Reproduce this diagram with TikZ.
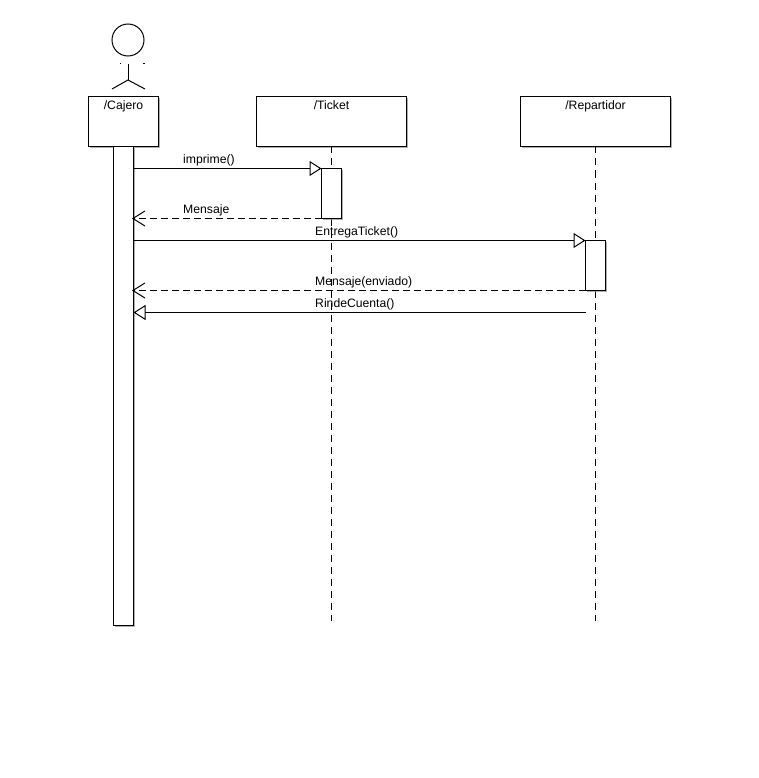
\documentclass[tikz,border=0pt]{standalone}
\usepackage{fontspec}
\setmainfont{Liberation Sans}
\usetikzlibrary{arrows.meta,shadows}
\begin{document}
\begin{tikzpicture}[
  x=1pt, y=-1pt,
  sombra/.style={drop shadow={shadow xshift=1.5pt, shadow yshift=-1.5pt, fill=black!45, opacity=0.7}},
  caja/.style={draw, fill=white, sombra, line width=1pt, minimum width=150pt, minimum height=50pt, outer sep=0pt,
               inner sep=0pt, text height=13.5pt, text depth=36.5pt, font=\fontsize{12.2}{14}\selectfont},
  activa/.style={draw, fill=white, sombra, line width=1pt, minimum width=20pt, inner sep=0pt, outer sep=0pt},
  vida/.style={dashed, dash pattern=on 7pt off 5pt, line width=1pt},
  linea/.style={line width=1pt},
  llamada/.style={line width=1pt, -{Triangle[length=12pt, width=15pt, fill=white, line width=1pt]}},
  retorno/.style={line width=1pt, dash pattern=on 7pt off 4pt, -{Straight Barb[length=12pt, width=15pt, line width=1pt, sep=-1.5pt]}},
  etiqueta/.style={anchor=base west, inner sep=0pt, font=\fontsize{12.2}{14}\selectfont}
]
  \useasboundingbox (0,0) rectangle (758,778);

  % actor
  \node[draw, circle, line width=1pt, minimum size=32pt, inner sep=0pt] (cabeza) at (128,40) {};
  \coordinate (cuello) at (128,64);
  \coordinate (cadera) at (128,80);
  \coordinate (pieIzq) at (112,89);
  \coordinate (pieDer) at (145,89);
  \coordinate (puntoIzqA) at (120,64);
  \coordinate (puntoIzqB) at (121,64);
  \coordinate (puntoDerA) at (143,64);
  \coordinate (puntoDerB) at (145,64);
  \draw[linea] (cuello) -- (cadera);
  \draw[linea] (pieIzq) -- (cadera) -- (pieDer);
  \draw[linea] (puntoIzqA) -- (puntoIzqB);
  \draw[linea] (puntoDerA) -- (puntoDerB);

  % cabeceras
  \node[caja, minimum width=70pt] (cajero) at (123.5,121.5) {/Cajero};
  \node[caja] (ticket) at (331.5,121.5) {/Ticket};
  \node[caja] (repartidor) at (595.5,121.5) {/Repartidor};

  % lineas de vida
  \coordinate (finTicket) at (331.5,621);
  \coordinate (finRepartidor) at (595.5,621);
  \draw[vida] (ticket) -- (finTicket);
  \draw[vida] (repartidor) -- (finRepartidor);

  % activaciones
  \node[activa, minimum height=479pt] (barra) at (123.5,386) {};
  \node[activa, minimum height=50pt] (actTicket) at (331.5,193.5) {};
  \node[activa, minimum height=50pt] (actRepartidor) at (595.5,265.5) {};

  % mensajes
  \coordinate (origenRinde) at (585.5,312.5);
  \draw[llamada] (barra.east |- actTicket.north west) -- (actTicket.north west);
  \draw[retorno] (actTicket.south west) -- (barra.east |- actTicket.south west);
  \draw[llamada] (barra.east |- actRepartidor.north west) -- (actRepartidor.north west);
  \draw[retorno] (actRepartidor.south west) -- (barra.east |- actRepartidor.south west);
  \draw[llamada] (origenRinde) -- (barra.east |- origenRinde);

  \node[etiqueta] (txtImprime) at (183,164) {imprime()};
  \node[etiqueta] (txtMensaje) at (183,213) {Mensaje};
  \node[etiqueta] (txtEntrega) at (315,235) {EntregaTicket()};
  \node[etiqueta] (txtEnviado) at (315,285) {Mensaje(enviado)};
  \node[etiqueta] (txtRinde) at (315,307) {RindeCuenta()};
\end{tikzpicture}
\end{document}
